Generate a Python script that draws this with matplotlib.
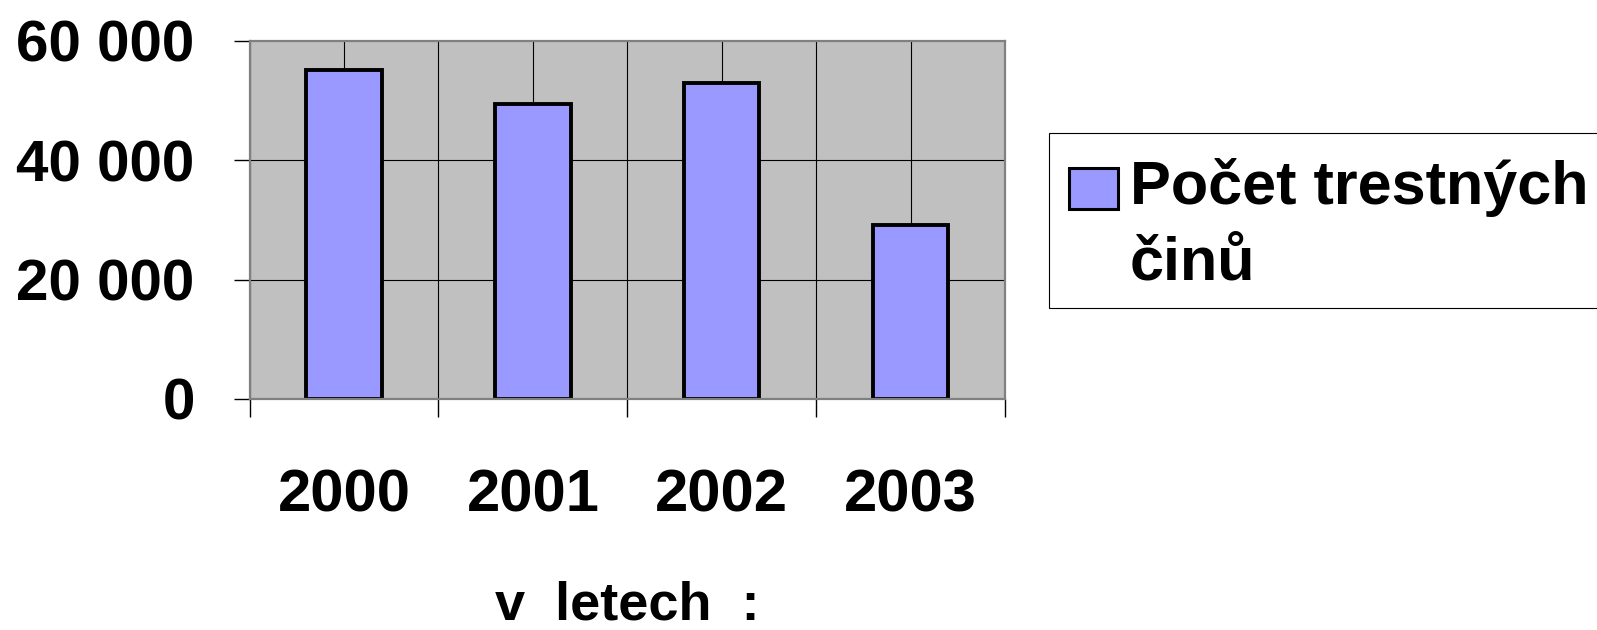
import numpy as np
import matplotlib
matplotlib.use("Agg")
import matplotlib.pyplot as plt
from matplotlib.patches import Rectangle

# pocet trestnych cinu po letech
years = ["2000", "2001", "2002", "2003"]
counts = [55100, 49500, 53000, 29200]
yticks = [0, 20000, 40000, 60000]
ytick_labels = ["0", "20 000", "40 000", "60 000"]
series_name = ["Počet trestných", "činů"]

plt.rcParams['font.family'] = ['Liberation Sans', 'DejaVu Sans']
plt.rcParams['font.weight'] = 'bold'

W, H = 1597, 630
fig = plt.figure(figsize=(W / 100, H / 100), dpi=100)
ax = fig.add_axes([249.5 / W, 1 - 399 / H, (1005 - 249.5) / W, (399 - 41) / H])
ax.set_facecolor('#C0C0C0')

x = np.arange(len(years))
ax.bar(x, counts, width=0.4, color='#9999FF', edgecolor='black', linewidth=2.8, zorder=3)

ax.set_xlim(-0.5, len(years) - 0.5)
ax.set_ylim(0, 60000)

# mrizka - vodorovne cary a svisle cary na stredech i hranicich kategorii
for v in yticks[1:-1]:
    ax.axhline(v, color='black', lw=0.8, zorder=1)
for v in np.arange(-0.5, len(years), 0.5):
    ax.axvline(v, color='black', lw=0.8, zorder=1)

ax.set_yticks(yticks)
ax.set_yticklabels(ytick_labels, fontsize=42, fontweight='bold')
ax.tick_params(axis='y', direction='out', length=11.5, width=1, pad=28, color='black')

ax.set_xticks(x)
ax.set_xticklabels(years, fontsize=43, fontweight='bold')
ax.set_xticks(np.arange(-0.5, len(years), 1.0), minor=True)
ax.tick_params(axis='x', which='major', length=0, pad=50)
ax.tick_params(axis='x', which='minor', direction='out', length=13, width=1, color='black')

for s in ax.spines.values():
    s.set_color('#808080')
    s.set_linewidth(1.6)
    s.set_zorder(4)

fig.text(627 / W, 1 - 619 / H, "v  letech  :", fontsize=39, fontweight='bold',
         ha='center', va='baseline')

# legenda - ramecek, ctverecek a dvouradkovy popisek
fig.patches.append(Rectangle((1049 / W, 1 - 308 / H), (1620 - 1049) / W, (308 - 133) / H,
                             transform=fig.transFigure, facecolor='white',
                             edgecolor='black', linewidth=0.8))
fig.patches.append(Rectangle((1069 / W, 1 - 209 / H), 49 / W, 41 / H,
                             transform=fig.transFigure, facecolor='#9999FF',
                             edgecolor='black', linewidth=2.2))
fig.text(1130 / W, 1 - 204 / H, series_name[0], fontsize=44, fontweight='bold', va='baseline')
fig.text(1130 / W, 1 - 280 / H, series_name[1], fontsize=44, fontweight='bold', va='baseline')

fig.savefig("out.png", dpi=100)
